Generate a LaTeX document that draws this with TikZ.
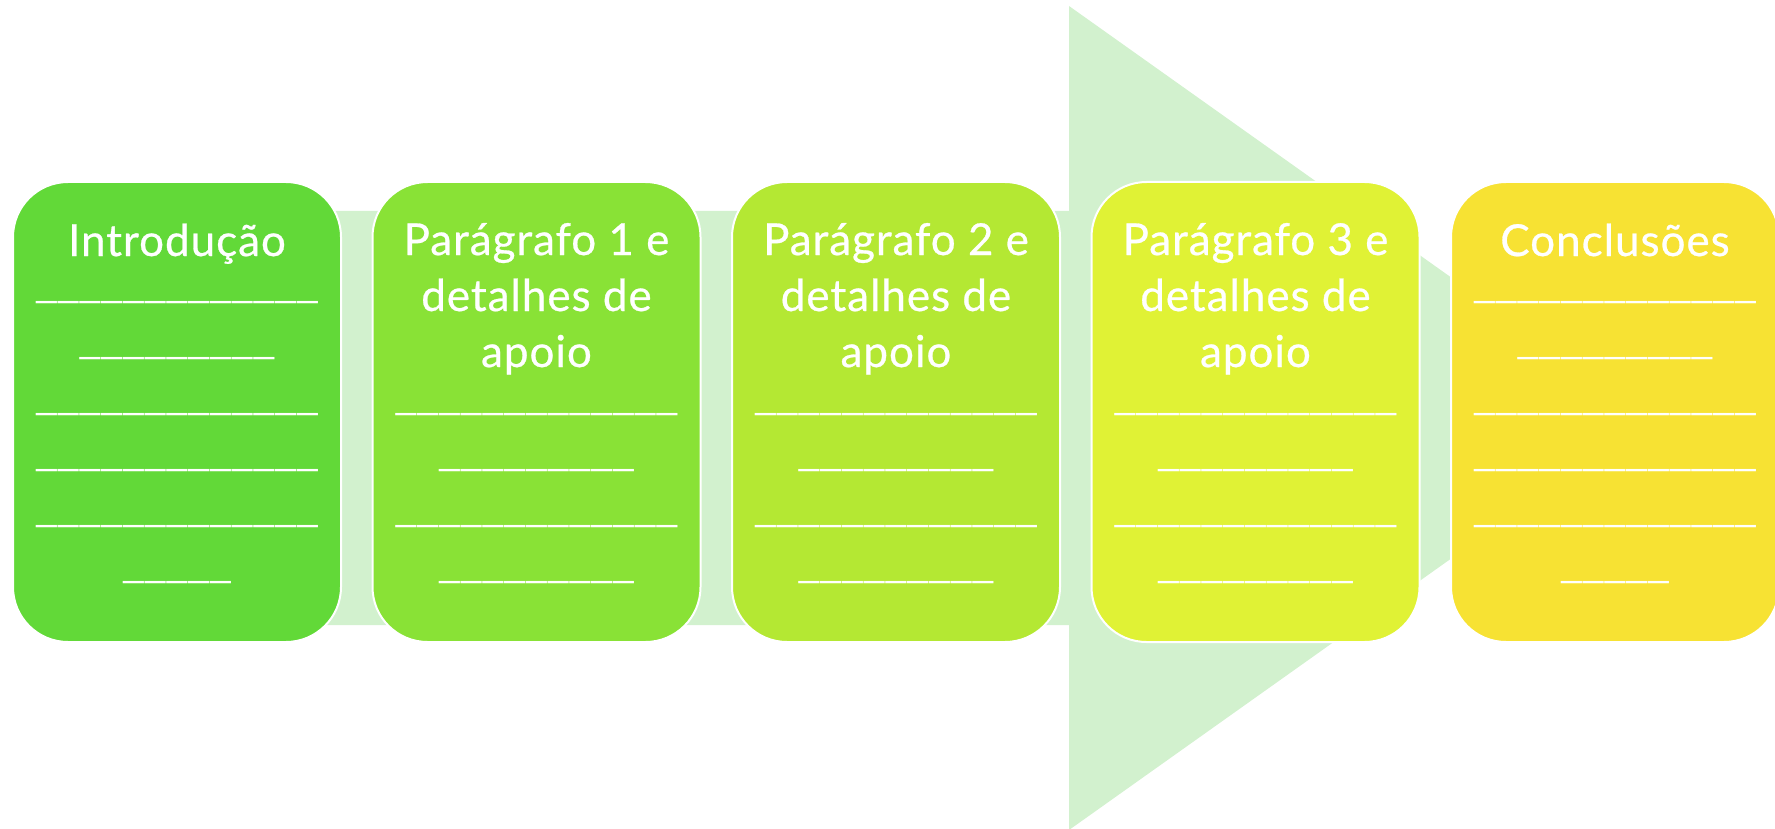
\documentclass[tikz,border=0pt]{standalone}
\usepackage{fontspec}
\setmainfont{Lato}[LetterSpace=2.2,FakeBold=0.6]
\newfontfamily\rulefont{Liberation Sans}[LetterSpace=4]
\usetikzlibrary{positioning}
\definecolor{arrowgreen}{RGB}{210,241,206}
\definecolor{stageA}{RGB}{98,217,56}
\definecolor{stageB}{RGB}{137,226,54}
\definecolor{stageC}{RGB}{180,232,51}
\definecolor{stageD}{RGB}{224,242,53}
\definecolor{stageE}{RGB}{247,226,51}
\newcommand\blanks[1]{\foreach \i in {1,...,#1}{\_}}
\tikzset{
  stage/.style={draw=white,line width=2pt,rounded corners=55pt,minimum width=328pt,minimum height=460pt,inner sep=0pt},
  heading/.style={text=white,font=\fontsize{44}{56}\selectfont,align=center,anchor=base},
  blankline/.style={text=white,font=\rulefont\fontsize{36.5}{56}\selectfont,anchor=base,inner sep=0pt}
}
\begin{document}
\begin{tikzpicture}[x=1pt,y=-1pt,node distance=29.5pt]
\useasboundingbox (0,0) rectangle (1775,829);
\clip (0,0) rectangle (1775,829);
\fill[arrowgreen] (40,211) -- (1069,211) -- (1069,6) -- (1649,418) -- (1069,830) -- (1069,625) -- (40,625) -- cycle;
\node[stage,fill=stageA,anchor=north west] (intro) at (12,181) {};
\node[stage,fill=stageB,right=of intro] (parA) {};
\node[stage,fill=stageC,right=of parA] (parB) {};
\node[stage,fill=stageD,right=of parB] (parC) {};
\node[stage,fill=stageE,right=of parC] (concl) {};
\node[heading] (intro-t) at ([yshift=-75pt]intro.north) {Introdução};
\node[heading] (parA-t) at ([yshift=-186pt]parA.north) {Parágrafo 1 e\\detalhes de\\apoio};
\node[heading] (parB-t) at ([yshift=-186pt]parB.north) {Parágrafo 2 e\\detalhes de\\apoio};
\node[heading] (parC-t) at ([yshift=-186pt]parC.north) {Parágrafo 3 e\\detalhes de\\apoio};
\node[heading] (concl-t) at ([yshift=-75pt]concl.north) {Conclusões};
\foreach \b in {intro,concl}
  \foreach \k/\n in {1/13,2/9,3/13,4/13,5/13,6/5}
    \node[blankline] (\b-l\k) at ([yshift={-115pt-56pt*(\k-1)}]\b.north) {\blanks{\n}};
\foreach \b in {parA,parB,parC}
  \foreach \k/\n in {3/13,4/9,5/13,6/9}
    \node[blankline] (\b-l\k) at ([yshift={-115pt-56pt*(\k-1)}]\b.north) {\blanks{\n}};
\end{tikzpicture}
\end{document}
